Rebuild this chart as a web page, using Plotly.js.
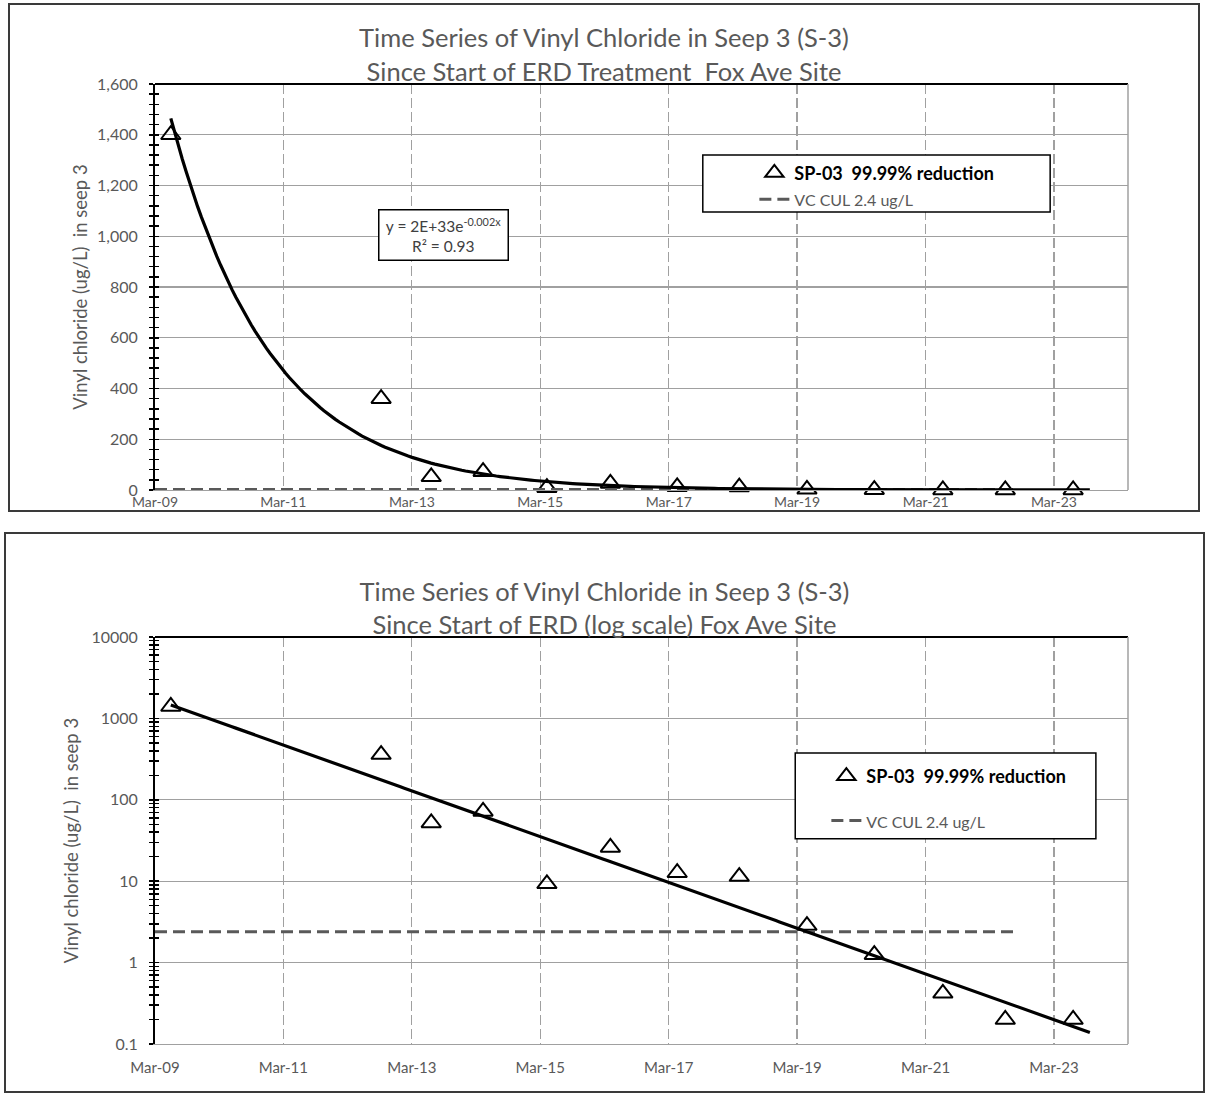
<!DOCTYPE html>
<html><head><meta charset="utf-8">
<script src="https://cdn.plot.ly/plotly-3.0.1.min.js"></script>
<style>
body{margin:0;background:#fff;width:1209px;height:1097px;overflow:hidden;}
.box{position:absolute;border:2px solid #3a3a3a;box-sizing:border-box;background:#fff;}
</style></head><body>
<div class="box" style="left:8px;top:3px;width:1192px;height:509px"><div id="top" style="width:1188px;height:505px"></div></div>
<div class="box" style="left:4px;top:532px;width:1201px;height:561px"><div id="bot" style="width:1197px;height:557px"></div></div>
<script>
// ---- data ----
const sampleDates = ['2009-05-30','2012-09-07','2013-06-19','2014-04-10','2015-04-08','2016-04-03','2017-04-18','2018-04-06','2019-04-26','2020-05-13','2021-06-07','2022-05-28','2023-06-18'];
const vcValues = [1400,360,52,72,9.3,26,12.7,11.4,2.85,1.25,0.42,0.2,0.2];
const culDates = ['2009-03-01','2022-08-01'];
const culValues = [2.4,2.4];
const seriesName = 'SP-03  99.99% reduction';
const culName = 'VC CUL 2.4 ug/L';
const trendForwardDays = 95;
const linTickFormat = ',';
const logTickVals = [0.1,1,10,100,1000,10000];
const logTickText = ['0.1','1','10','100','1000','10000'];
const xRange = ['2009-03-01','2024-04-25'];
const titleTop = 'Time Series of Vinyl Chloride in Seep 3 (S-3)<br>Since Start of ERD Treatment  Fox Ave Site';
const titleBot = 'Time Series of Vinyl Chloride in Seep 3 (S-3)<br>Since Start of ERD (log scale) Fox Ave Site';
const yTitle = 'Vinyl chloride (ug/L)  in seep 3';
const eqText = 'y = 2E+33e<sup>-0.002x</sup><br>R² = 0.93';

// ---- exponential trendline (least squares on ln y, like Excel) ----
const DAY = 86400000;
const xs = sampleDates.map(d => Date.parse(d + 'T00:00:00Z') / DAY);
const ls = vcValues.map(v => Math.log(v));
const n = xs.length;
const mx = xs.reduce((a,b)=>a+b,0)/n, my = ls.reduce((a,b)=>a+b,0)/n;
let sxy = 0, sxx = 0;
for (let i=0;i<n;i++){ sxy += (xs[i]-mx)*(ls[i]-my); sxx += (xs[i]-mx)*(xs[i]-mx); }
const slope = sxy/sxx, icpt = my - slope*mx;
const tStart = xs[0], tEnd = xs[n-1] + trendForwardDays;
const trendX = [], trendY = [];
for (let i=0;i<=240;i++){
  const t = tStart + (tEnd - tStart)*i/240;
  trendX.push(new Date(t*DAY).toISOString().slice(0,10));
  trendY.push(Math.exp(icpt + slope*t));
}

const FONT = 'Lato, "Open Sans", sans-serif';
const GREY = '#595959';
const GRID = '#a0a0a0';

function traces(){
  return [
    {x: sampleDates, y: vcValues, name: '<b>'+seriesName+'</b>', mode: 'markers', type: 'scatter',
     marker: {symbol: 'triangle-up-open', size: 17, color: '#000', line: {width: 2, color: '#000'}},
     legendgroup: 'a', cliponaxis: false},
    {x: culDates, y: culValues, name: "<span style='color:#595959;font-size:16px;font-weight:normal'>"+culName+"</span>",
     mode: 'lines', type: 'scatter', line: {color: GREY, width: 3, dash: '12px,6px'}, legendgroup: 'b'},
    {x: trendX, y: trendY, mode: 'lines', type: 'scatter', line: {color: '#000', width: 3.2},
     showlegend: false, hoverinfo: 'skip'},
    {x: [null], y: [null], yaxis: 'y2', showlegend: false, hoverinfo: 'skip', mode: 'markers'}
  ];
}

function xaxis(standoff, fs){
  return {type: 'date', range: xRange, tick0: '2009-03-01', dtick: 'M24', tickformat: '%b-%y',
    showgrid: true, gridcolor: GRID, gridwidth: 1.2, griddash: '10px,4px',
    showline: true, linecolor: GRID, linewidth: 1.3, ticks: '', zeroline: false,
    ticklabelstandoff: standoff, tickfont: {family: FONT, size: fs, color: GREY}};
}

// ---- top (linear) ----
const yLin = {range: [0,1600], dtick: 200, tickformat: linTickFormat, showgrid: true, gridcolor: GRID, gridwidth: 1.3,
  showline: true, linecolor: '#000', linewidth: 2, ticks: 'outside', ticklen: 4, tickwidth: 1.5, tickcolor: '#000',
  minor: {dtick: 40, ticks: 'outside', ticklen: 4, tickwidth: 1.5, tickcolor: '#000', showgrid: false},
  zeroline: false, ticklabelstandoff: 8, tickfont: {family: FONT, size: 16, color: GREY},
  title: {text: yTitle, font: {family: FONT, size: 18.5, color: GREY}, standoff: 5}};
const yLin2 = {overlaying: 'y', side: 'left', range: [0,1600], dtick: 200, showgrid: false, showline: false,
  showticklabels: false, ticks: 'inside', ticklen: 4, tickwidth: 1.5, tickcolor: '#000', zeroline: false,
  minor: {dtick: 40, ticks: 'inside', ticklen: 4, tickwidth: 1.5, tickcolor: '#000', showgrid: false}};

const layoutTop = {
  width: 1188, height: 505, margin: {l: 145, r: 70, t: 79, b: 20},
  paper_bgcolor: '#fff', plot_bgcolor: '#fff', font: {family: FONT, color: GREY},
  title: {text: titleTop, x: 0.5, xref: 'container', xanchor: 'center', y: 0.916, yref: 'container', yanchor: 'middle',
          font: {family: FONT, size: 25.5, color: GREY}},
  xaxis: xaxis(-1, 14), yaxis: yLin, yaxis2: yLin2,
  showlegend: true,
  legend: {x: 0.616, y: 0.826, xanchor: 'left', yanchor: 'top', bgcolor: 'rgba(0,0,0,0)', borderwidth: 0,
           font: {family: FONT, size: 18, color: '#000'}, traceorder: 'grouped', tracegroupgap: 0, itemwidth: 30},
  shapes: [
    {type: 'rect', xref: 'paper', yref: 'paper', x0: 0.563, x1: 0.920, y0: 0.685, y1: 0.825,
     line: {color: '#000', width: 1.5}, fillcolor: '#fff', layer: 'above'},
    {type: 'line', xref: 'paper', yref: 'paper', x0: 0, x1: 1, y0: 1, y1: 1, line: {color: '#000', width: 2}},
    {type: 'line', xref: 'paper', yref: 'paper', x0: 1, x1: 1, y0: 0, y1: 1, line: {color: GRID, width: 1.5}}
  ],
  annotations: [
    {text: eqText, xref: 'paper', yref: 'paper', x: 0.2965, y: 0.629, xanchor: 'center', yanchor: 'middle',
     showarrow: false, bgcolor: '#fff', bordercolor: '#000', borderwidth: 1.5, borderpad: 2, width: 124, height: 45,
     font: {family: FONT, size: 15.5, color: '#404040'}}
  ]
};

// ---- bottom (log) ----
const minorLog = [];
for (let d=-1; d<4; d++) for (let k=2; k<10; k++) minorLog.push(k*Math.pow(10,d));
const yLog = {type: 'log', range: [-1,4], tickmode: 'array', tickvals: logTickVals, ticktext: logTickText,
  showgrid: true, gridcolor: GRID, gridwidth: 1.3, showline: true, linecolor: '#000', linewidth: 2,
  ticks: 'outside', ticklen: 4, tickwidth: 1.5, tickcolor: '#000',
  minor: {tickmode: 'array', tickvals: minorLog, ticks: 'outside', ticklen: 4, tickwidth: 1.5, tickcolor: '#000', showgrid: false},
  zeroline: false, ticklabelstandoff: 8, tickfont: {family: FONT, size: 16, color: GREY},
  title: {text: yTitle, font: {family: FONT, size: 18.5, color: GREY}, standoff: 8}};
const yLog2 = {type: 'log', overlaying: 'y', side: 'left', range: [-1,4], tickmode: 'array', tickvals: logTickVals,
  showgrid: false, showline: false, showticklabels: false, ticks: 'inside', ticklen: 4, tickwidth: 1.5, tickcolor: '#000',
  zeroline: false,
  minor: {tickmode: 'array', tickvals: minorLog, ticks: 'inside', ticklen: 4, tickwidth: 1.5, tickcolor: '#000', showgrid: false}};

const layoutBot = {
  width: 1197, height: 557, margin: {l: 149, r: 75, t: 103, b: 47},
  paper_bgcolor: '#fff', plot_bgcolor: '#fff', font: {family: FONT, color: GREY},
  title: {text: titleBot, x: 0.5, xref: 'container', xanchor: 'center', y: 0.880, yref: 'container', yanchor: 'middle',
          font: {family: FONT, size: 25.5, color: GREY}},
  xaxis: xaxis(10, 15), yaxis: yLog, yaxis2: yLog2,
  showlegend: true,
  legend: {x: 0.690, y: 0.703, xanchor: 'left', yanchor: 'top', bgcolor: 'rgba(0,0,0,0)', borderwidth: 0,
           font: {family: FONT, size: 18, color: '#000'}, traceorder: 'grouped', tracegroupgap: 18, itemwidth: 30},
  shapes: [
    {type: 'rect', xref: 'paper', yref: 'paper', x0: 0.658, x1: 0.967, y0: 0.504, y1: 0.715,
     line: {color: '#000', width: 1.5}, fillcolor: '#fff', layer: 'above'},
    {type: 'line', xref: 'paper', yref: 'paper', x0: 0, x1: 1, y0: 1, y1: 1, line: {color: '#000', width: 2}},
    {type: 'line', xref: 'paper', yref: 'paper', x0: 1, x1: 1, y0: 0, y1: 1, line: {color: GRID, width: 1.5}}
  ]
};

const cfg = {staticPlot: true, displayModeBar: false};
Plotly.newPlot('top', traces(), layoutTop, cfg);
Plotly.newPlot('bot', traces(), layoutBot, cfg);
</script>
</body></html>
